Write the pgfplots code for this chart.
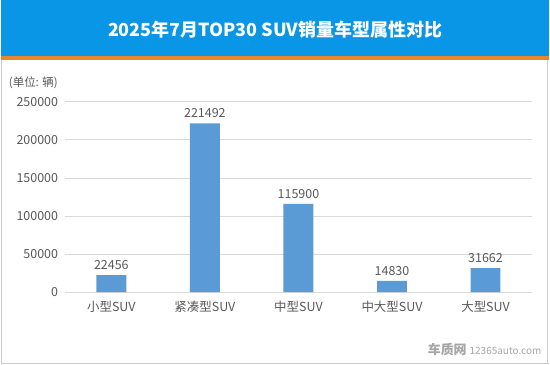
\documentclass[border=0pt]{standalone}
\usepackage{fontspec}
\setmainfont{Noto Sans CJK SC}
\usepackage{pgfplots}
\pgfplotsset{compat=1.18}
\definecolor{hdr}{HTML}{0A96E6}
\definecolor{org}{HTML}{E8862C}
\definecolor{bar}{HTML}{5B9BD5}
\definecolor{txt}{HTML}{595959}
\definecolor{grd}{HTML}{D9D9D9}
\begin{document}
\begin{tikzpicture}[x=1pt,y=1pt]
\fill[white] (0,0) rectangle (550,365);
\draw[gray!40,line width=1.5pt] (0.75,0) -- (0.75,305) (548.25,0) -- (548.25,305) (0,0.75) -- (550,0.75);
\fill[hdr] (0,308) rectangle (550,365);
\fill[org] (0,305) rectangle (550,308.5);
\node[white,font=\fontsize{18}{21}\selectfont\bfseries] at (275,335.5) {2025年7月TOP30 SUV销量车型属性对比};
\node[txt,anchor=west,font=\fontsize{11.5}{13}\selectfont,inner sep=0pt] at (8,282) {(单位: 辆)};
\node[gray!70,anchor=west,font=\fontsize{13}{15}\selectfont\bfseries,inner sep=0pt] at (428,15) {车质网};
\node[gray!70,anchor=west,font=\fontsize{10}{12}\selectfont,inner sep=0pt] at (470,13) {12365auto.com};
\begin{axis}[
  at={(64pt,72pt)}, anchor=south west,
  scale only axis, width=469pt, height=191pt,
  xmin=-0.5, xmax=4.5, ymin=0, ymax=250000,
  ytick={0,50000,100000,150000,200000,250000},
  scaled y ticks=false,
  xtick={0,1,2,3,4},
  xticklabels={小型SUV,紧凑型SUV,中型SUV,中大型SUV,大型SUV},
  axis lines=left, axis line style={draw=none},
  major tick length=0,
  ymajorgrids, grid style={grd, line width=0.8pt},
  /pgf/number format/fixed, /pgf/number format/1000 sep={},
  /pgf/number format/assume math mode=true,
  tick label style={txt, font=\fontsize{12.5}{14}\selectfont},
  yticklabel style={xshift=-3pt},
  xticklabel style={yshift=-5pt},
  clip=false,
]
\addplot[ybar, bar width=30pt, fill=bar, draw=none,
  nodes near coords, nodes near coords style={txt, font=\fontsize{12.5}{14}\selectfont, yshift=2pt},
  point meta=explicit symbolic]
  coordinates {(0,22456)[22456] (1,221492)[221492] (2,115900)[115900] (3,14830)[14830] (4,31662)[31662]};
\end{axis}
\end{tikzpicture}
\end{document}
